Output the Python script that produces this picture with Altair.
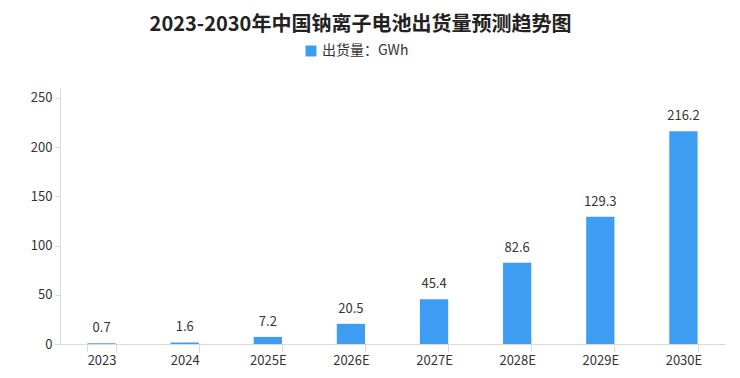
import altair as alt
import pandas as pd

years = ["2023", "2024", "2025E", "2026E", "2027E", "2028E", "2029E", "2030E"]
values = [0.7, 1.6, 7.2, 20.5, 45.4, 82.6, 129.3, 216.2]
series_name = "出货量：GWh"

df = pd.DataFrame({"year": years, "value": values, "series": [series_name] * len(years)})
df["label"] = [f"{v:.1f}" for v in values]

font = "Noto Sans CJK SC"
color = "#3d9df2"

base = alt.Chart(df).encode(
    x=alt.X("year:N", sort=years, title=None,
            scale=alt.Scale(paddingInner=0.66, paddingOuter=0.33),
            axis=alt.Axis(labelAngle=0, labelFont=font, labelFontSize=13, labelColor="#333333",
                          domainColor="#d9d9d9", tickColor="#d9d9d9", tickBand="extent",
                          tickSize=8, labelPadding=2)),
)

bars = base.mark_bar(color=color).encode(
    y=alt.Y("value:Q", title=None, scale=alt.Scale(domain=[0, 250]),
            axis=alt.Axis(values=[0, 50, 100, 150, 200, 250], labelFont=font, labelFontSize=13,
                          labelColor="#333333", grid=False, domainColor="#d9d9d9",
                          tickColor="#d9d9d9", tickSize=5, labelPadding=3)),
    fill=alt.Fill("series:N", scale=alt.Scale(range=[color]),
                  legend=alt.Legend(orient="none", legendX=244, legendY=-44, title=None,
                                    symbolType="square", symbolSize=120, symbolStrokeWidth=0,
                                    labelFont=font, labelFontSize=14, labelColor="#333333",
                                    direction="horizontal")),
)

labels = base.mark_text(dy=-15, baseline="middle", font=font, fontSize=13, color="#333333").encode(
    y=alt.Y("value:Q"),
    text="label:N",
)

chart = (bars + labels).properties(
    width=665, height=256,
    autosize=alt.AutoSizeParams(type="none"),
    title=alt.TitleParams("2023-2030年中国钠离子电池出货量预测趋势图", font=font, fontSize=20,
                          fontWeight="bold", color="#222222", offset=9, dx=-32, anchor="middle"),
    padding={"left": 52, "right": 7, "top": 80, "bottom": 28},
).configure(background="white").configure_view(strokeWidth=0)

chart.save("out.html", embed_options={"renderer": "svg", "actions": False})
